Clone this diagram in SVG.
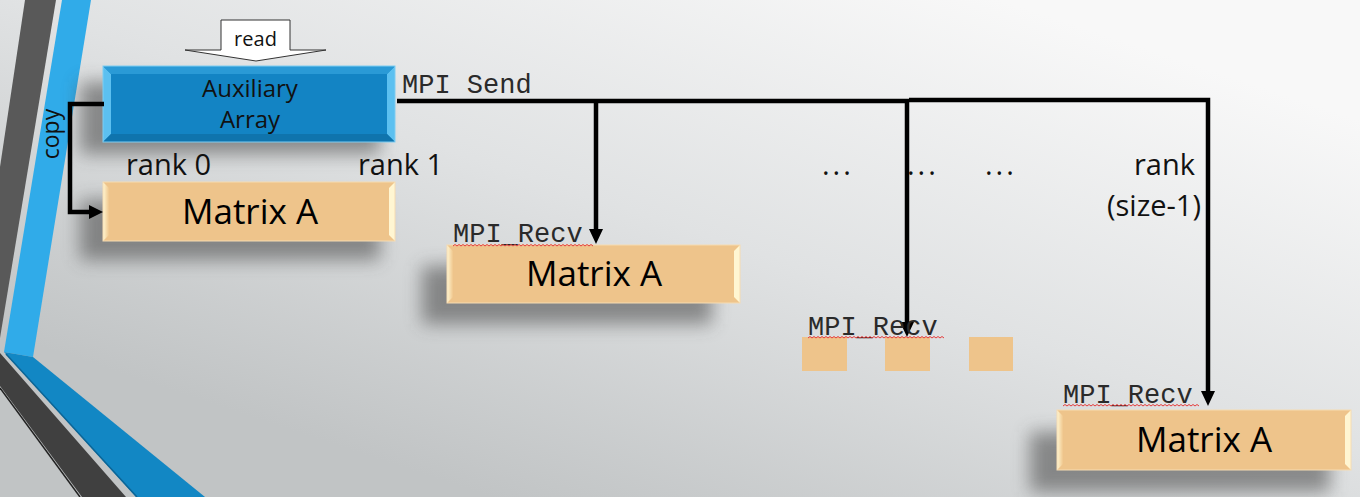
<svg xmlns="http://www.w3.org/2000/svg" width="1360" height="497" viewBox="0 0 1360 497">
<defs>
<linearGradient id="bg" gradientUnits="userSpaceOnUse" x1="820" y1="-60" x2="620" y2="540">
<stop offset="0" stop-color="#f8f8f8"/>
<stop offset="0.5" stop-color="#e0e2e3"/>
<stop offset="1" stop-color="#c1c4c5"/>
</linearGradient>
<filter id="blur" x="-20%" y="-50%" width="140%" height="200%">
<feGaussianBlur stdDeviation="9"/>
</filter>
<linearGradient id="orangeBevel" x1="0" y1="0" x2="1" y2="0">
<stop offset="0" stop-color="#fff6d2"/>
<stop offset="1" stop-color="#f0c78e"/>
</linearGradient>
<style>
.lbl{font-family:"Open Sans","Liberation Sans",sans-serif;fill:#111}
.mono{font-family:"Liberation Mono","Courier New",monospace;font-size:27px;fill:#2a2a2a}
.mat{font-family:"Open Sans","Liberation Sans",sans-serif;font-size:35px;fill:#000;text-anchor:middle}
.orange{fill:#eec48b}
.shadow{fill:#444;opacity:0.55;filter:url(#blur)}
.conn{fill:none;stroke:#000;stroke-width:4.5;stroke-linejoin:miter}
.wavy{fill:none;stroke:#e53b3b;stroke-width:1}
</style>
</defs>

<rect x="0" y="0" width="1360" height="497" fill="url(#bg)"/>

<!-- left decoration -->
<g id="decoration">
<polygon points="25,0 56,0 0,338 0,167" fill="#595959"/>
<polygon points="62,0 91,0 33,357 4,352" fill="#30abe9"/>
<polygon points="0,353 126,497 82,497 0,386" fill="#404040"/>
<line x1="0" y1="388" x2="80" y2="497" stroke="#222" stroke-width="1.5"/>
<polygon points="4,352 33,357 205,497 136,497" fill="#1287c4"/>
<line x1="6" y1="354" x2="137" y2="497" stroke="#0c6596" stroke-width="1.5"/>
</g>

<!-- shadows -->
<g id="shadows">
<rect class="shadow" x="80" y="82" width="300" height="72"/>
<rect class="shadow" x="80" y="200" width="300" height="60"/>
<rect class="shadow" x="422" y="266" width="290" height="58"/>
<rect class="shadow" x="1030" y="432" width="300" height="60"/>
</g>

<!-- read arrow -->
<g id="read">
<polygon points="221,20 290,20 290,50 326,50 256,61 185,50 221,50" fill="#fff" stroke="#333" stroke-width="1"/>
<text class="lbl" x="255.500" y="46" font-size="20" text-anchor="middle">read</text>
</g>

<!-- Auxiliary Array -->
<g id="aux">
<rect x="103" y="66" width="292" height="76" fill="#1384c4"/>
<polygon points="103,66 111,74 111,134 103,142" fill="#5cc0f0"/>
<polygon points="395,66 387,74 387,134 395,142" fill="#5cc0f0"/>
<polygon points="103,66 395,66 387,74 111,74" fill="#2a9ad6"/>
<polygon points="103,142 395,142 387,134 111,134" fill="#0f74ad"/>
<rect x="103" y="66" width="292" height="76" fill="none" stroke="#7fcdf2" stroke-width="1"/>
<text class="lbl" x="250" y="97" font-size="24" text-anchor="middle">Auxiliary</text>
<text class="lbl" x="250" y="128" font-size="24" text-anchor="middle">Array</text>
</g>

<!-- Matrix A rank 0 -->
<g id="matrix0">
<rect class="orange" x="103" y="182" width="292" height="59"/>
<polygon points="103,182 109,188 109,235 103,241" fill="url(#orangeBevel)"/>
<polygon points="395,182 389,188 389,235 395,241" fill="#fff6d2"/>
<rect x="103" y="182" width="292" height="59" fill="none" stroke="#f6dcb2" stroke-width="1"/>
<text class="mat" x="250" y="224">Matrix A</text>
</g>

<!-- Matrix A rank 1 -->
<g id="matrix1">
<rect class="orange" x="447" y="245" width="293" height="58"/>
<polygon points="447,245 453,251 453,297 447,303" fill="url(#orangeBevel)"/>
<polygon points="740,245 734,251 734,297 740,303" fill="#fff6d2"/>
<rect x="447" y="245" width="293" height="58" fill="none" stroke="#f6dcb2" stroke-width="1"/>
<text class="mat" x="594" y="286">Matrix A</text>
</g>

<!-- small boxes -->
<g id="small1"><rect class="orange" x="802" y="337" width="45" height="34"/></g>
<g id="small2"><rect class="orange" x="885" y="337" width="45" height="34"/></g>
<g id="small3"><rect class="orange" x="969" y="337" width="44" height="34"/></g>

<!-- Matrix A rank size-1 -->
<g id="matrixN">
<rect class="orange" x="1057" y="410" width="294" height="60"/>
<polygon points="1057,410 1063,416 1063,464 1057,470" fill="url(#orangeBevel)"/>
<polygon points="1351,410 1345,416 1345,464 1351,470" fill="#fff6d2"/>
<rect x="1057" y="410" width="294" height="60" fill="none" stroke="#f6dcb2" stroke-width="1"/>
<text class="mat" x="1204" y="452">Matrix A</text>
</g>

<!-- connectors -->
<g id="connectors">
<path class="conn" d="M397,101 H909" stroke-width="5.5"/>
<path class="conn" d="M909,100 H1208 V392"/>
<path class="conn" d="M596,101 V230"/>
<path class="conn" d="M907,101 V323"/>
<path d="M589,229 L603,229 L596,244 z" fill="#000"/>
<path d="M900,322 L914,322 L907,337 z" fill="#000"/>
<path d="M1201,391 L1215,391 L1208,406 z" fill="#000"/>
<path class="conn" d="M104,104 H70 V212 H90"/>
<path d="M89,205 L103,212 L89,219 z" fill="#000"/>
</g>

<!-- labels -->
<g id="labels">
<text class="mono" x="402" y="93">MPI Send</text>
<text class="mono" x="453" y="242">MPI_Recv</text>
<path class="wavy" d="M453,246 l2,-1.5 l2,1.5 l2,-1.5 l2,1.5 l2,-1.5 l2,1.5 l2,-1.5 l2,1.5 l2,-1.5 l2,1.5 l2,-1.5 l2,1.5 l2,-1.5 l2,1.5 l2,-1.5 l2,1.5 l2,-1.5 l2,1.5 l2,-1.5 l2,1.5 l2,-1.5 l2,1.5 l2,-1.5 l2,1.5 l2,-1.5 l2,1.5 l2,-1.5 l2,1.5 l2,-1.5 l2,1.5 l2,-1.5 l2,1.5 l2,-1.5 l2,1.5 l2,-1.5 l2,1.5 l2,-1.5 l2,1.5 l2,-1.5 l2,1.5 l2,-1.5 l2,1.5 l2,-1.5 l2,1.5 l2,-1.5 l2,1.5 l2,-1.5 l2,1.5 l2,-1.5 l2,1.5 l2,-1.5 l2,1.5 l2,-1.5 l2,1.5 l2,-1.5 l2,1.5 l2,-1.5 l2,1.5 l2,-1.5 l2,1.5 l2,-1.5 l2,1.5 l2,-1.5 l2,1.5 l2,-1.5 l2,1.5 l2,-1.5 l2,1.5 l2,-1.5 l2,1.5"/>
<text class="mono" x="808" y="335">MPI_Recv</text>
<path class="wavy" d="M808,338 l2,-1.5 l2,1.5 l2,-1.5 l2,1.5 l2,-1.5 l2,1.5 l2,-1.5 l2,1.5 l2,-1.5 l2,1.5 l2,-1.5 l2,1.5 l2,-1.5 l2,1.5 l2,-1.5 l2,1.5 l2,-1.5 l2,1.5 l2,-1.5 l2,1.5 l2,-1.5 l2,1.5 l2,-1.5 l2,1.5 l2,-1.5 l2,1.5 l2,-1.5 l2,1.5 l2,-1.5 l2,1.5 l2,-1.5 l2,1.5 l2,-1.5 l2,1.5 l2,-1.5 l2,1.5 l2,-1.5 l2,1.5 l2,-1.5 l2,1.5 l2,-1.5 l2,1.5 l2,-1.5 l2,1.5 l2,-1.5 l2,1.5 l2,-1.5 l2,1.5 l2,-1.5 l2,1.5 l2,-1.5 l2,1.5 l2,-1.5 l2,1.5 l2,-1.5 l2,1.5 l2,-1.5 l2,1.5 l2,-1.5 l2,1.5 l2,-1.5 l2,1.5 l2,-1.5 l2,1.5 l2,-1.5 l2,1.5 l2,-1.5 l2,1.5"/>
<text class="mono" x="1063" y="403">MPI_Recv</text>
<path class="wavy" d="M1063,406 l2,-1.5 l2,1.5 l2,-1.5 l2,1.5 l2,-1.5 l2,1.5 l2,-1.5 l2,1.5 l2,-1.5 l2,1.5 l2,-1.5 l2,1.5 l2,-1.5 l2,1.5 l2,-1.5 l2,1.5 l2,-1.5 l2,1.5 l2,-1.5 l2,1.5 l2,-1.5 l2,1.5 l2,-1.5 l2,1.5 l2,-1.5 l2,1.5 l2,-1.5 l2,1.5 l2,-1.5 l2,1.5 l2,-1.5 l2,1.5 l2,-1.5 l2,1.5 l2,-1.5 l2,1.5 l2,-1.5 l2,1.5 l2,-1.5 l2,1.5 l2,-1.5 l2,1.5 l2,-1.5 l2,1.5 l2,-1.5 l2,1.5 l2,-1.5 l2,1.5 l2,-1.5 l2,1.5 l2,-1.5 l2,1.5 l2,-1.5 l2,1.5 l2,-1.5 l2,1.5 l2,-1.5 l2,1.5 l2,-1.5 l2,1.5 l2,-1.5 l2,1.5 l2,-1.5 l2,1.5 l2,-1.5 l2,1.5 l2,-1.5 l2,1.5"/>
<text class="lbl" x="126" y="175" font-size="29">rank 0</text>
<text class="lbl" x="358" y="175" font-size="29">rank 1</text>
<text class="lbl" x="822" y="175" font-size="29" letter-spacing="3">...</text>
<text class="lbl" x="907" y="175" font-size="29" letter-spacing="3">...</text>
<text class="lbl" x="985" y="175" font-size="29" letter-spacing="3">...</text>
<text class="lbl" x="1195" y="175" font-size="29" text-anchor="end">rank</text>
<text class="lbl" x="1201" y="216" font-size="29" text-anchor="end">(size-1)</text>
<text class="lbl" x="59" y="134" font-size="23" text-anchor="middle" transform="rotate(-90 59 134)">copy</text>
</g>
</svg>
